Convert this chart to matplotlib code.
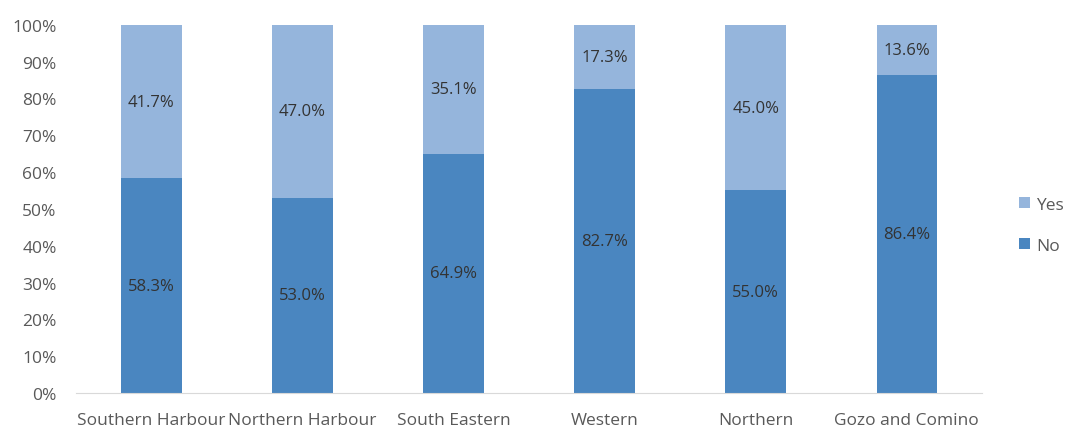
import matplotlib.pyplot as plt
from matplotlib.ticker import PercentFormatter

regions = ['Southern Harbour', 'Northern Harbour', 'South Eastern', 'Western', 'Northern', 'Gozo and Comino']
no_vals = [58.3, 53.0, 64.9, 82.7, 55.0, 86.4]
yes_vals = [41.7, 47.0, 35.1, 17.3, 45.0, 13.6]

plt.rcParams['font.family'] = ['Open Sans', 'DejaVu Sans']

fig = plt.figure(figsize=(10.7, 4.31), dpi=100)
ax = fig.add_axes([0.071, 0.086, 0.847, 0.854])

x = range(len(regions))
c_no, c_yes = '#4a86c0', '#95b5dc'
b_no = ax.bar(x, no_vals, width=0.4, color=c_no, label='No')
b_yes = ax.bar(x, yes_vals, width=0.4, bottom=no_vals, color=c_yes, label='Yes')

for bars, vals in ((b_no, no_vals), (b_yes, yes_vals)):
    ax.bar_label(bars, labels=['%.1f%%' % v for v in vals], label_type='center',
                 fontsize=12, color='#333333')

ax.set_ylim(0, 100)
ax.set_xlim(-0.5, len(regions) - 0.5)
ax.set_yticks(range(0, 101, 10))
ax.yaxis.set_major_formatter(PercentFormatter(decimals=0))
ax.set_xticks(list(x))
ax.set_xticklabels(regions)
ax.tick_params(length=0, labelsize=12.5, colors='#595959')
ax.tick_params(axis='y', pad=14)
ax.tick_params(axis='x', pad=14)
for s in ('top', 'right', 'left'):
    ax.spines[s].set_visible(False)
ax.spines['bottom'].set_color('#d9d9d9')

handles, labels = ax.get_legend_handles_labels()
fig.legend(handles[::-1], labels[::-1], loc='center left', bbox_to_anchor=(0.938, 0.475),
           frameon=False, fontsize=12.5, handlelength=0.6, handleheight=0.6,
           handletextpad=0.35, labelspacing=1.45, labelcolor='#595959')

fig.savefig('out.png', dpi=100)
